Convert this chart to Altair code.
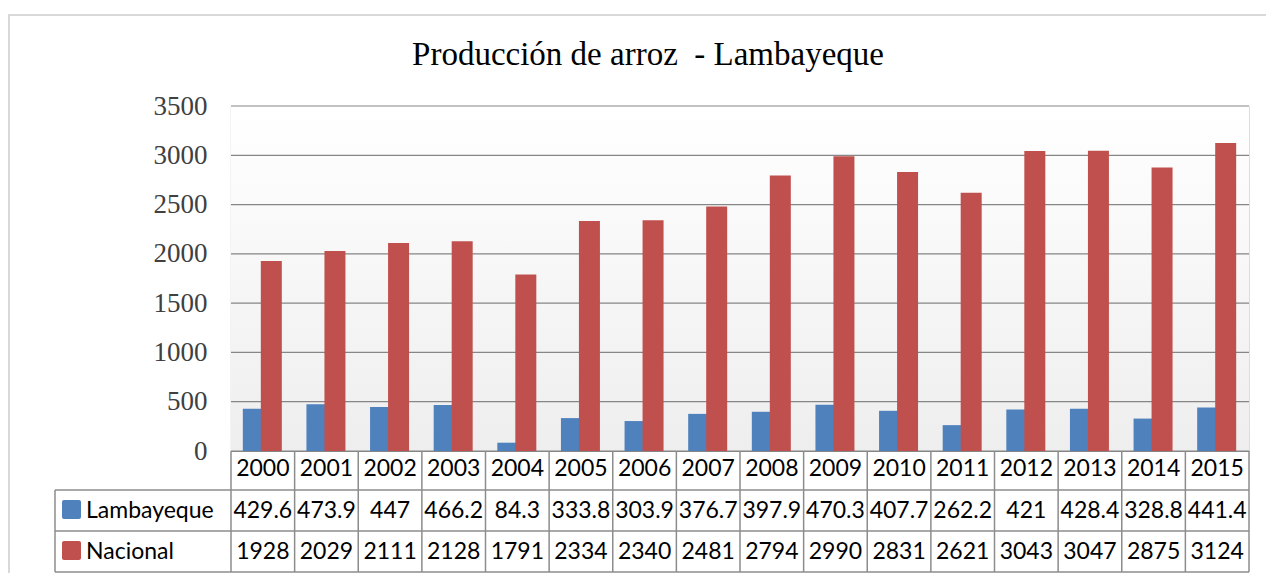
import altair as alt
import pandas as pd

years = [str(y) for y in range(2000, 2016)]
lambayeque = [429.6, 473.9, 447, 466.2, 84.3, 333.8, 303.9, 376.7, 397.9, 470.3, 407.7, 262.2, 421, 428.4, 328.8, 441.4]
nacional = [1928, 2029, 2111, 2128, 1791, 2334, 2340, 2481, 2794, 2990, 2831, 2621, 3043, 3047, 2875, 3124]
series = ["Lambayeque", "Nacional"]
colors = ["#4f81bd", "#c0504d"]
y_ticks = [0, 500, 1000, 1500, 2000, 2500, 3000, 3500]
title_text = "Producción de arroz\u00a0\u00a0- Lambayeque"


def fmt(v):
    return f"{v:g}"


rows = []
for i, y in enumerate(years):
    rows.append({"year": y, "series": series[0], "value": lambayeque[i], "label": fmt(lambayeque[i])})
    rows.append({"year": y, "series": series[1], "value": nacional[i], "label": fmt(nacional[i])})
df = pd.DataFrame(rows)
df_years = pd.DataFrame({"year": years})
df_ticks = pd.DataFrame({"v": y_ticks})
one = pd.DataFrame({"a": [0]})

W, H = 1018, 345
GRID = "#868686"
TABLE = "#8c8c8c"
FONT_T = "Lato"
FS_T = 23

xs = alt.Scale(domain=years, paddingInner=0, paddingOuter=0)
ys = alt.Scale(domain=[0, 3500], nice=False)
cs = alt.Scale(domain=series, range=colors)

# outer border
border = alt.Chart(one).mark_rect(fill=None, stroke="#d9d9d9", strokeWidth=2).encode(
    x=alt.value(-222), x2=alt.value(W + 40), y=alt.value(-91), y2=alt.value(H + 140)
)

title = alt.Chart(one).mark_text(font="Liberation Serif", fontSize=33, color="black",
                                 align="center", baseline="alphabetic", text=title_text).encode(
    x=alt.value(417), y=alt.value(-41))

bg = alt.Chart(one).mark_rect(
    color=alt.LinearGradient(
        gradient="linear",
        stops=[alt.GradientStop(color="#ffffff", offset=0), alt.GradientStop(color="#eeeeee", offset=1)],
        x1=0, x2=0, y1=0, y2=1,
    )
).encode(x=alt.value(0), x2=alt.value(W), y=alt.value(0), y2=alt.value(H))

grid = alt.Chart(df_ticks).mark_rule(color=GRID, strokeWidth=1.2).encode(
    y=alt.Y("v:Q", scale=ys,
            axis=alt.Axis(values=y_ticks, title=None, grid=False, ticks=False, domain=True, format="d",
                          domainColor=GRID, domainWidth=1.2, labelFont="Liberation Serif",
                          labelFontSize=27, labelColor="#404040", labelPadding=24)),
    x=alt.value(0), x2=alt.value(W),
)

blue = alt.Chart(df).transform_filter(alt.datum.series == series[0]).mark_bar(size=20, xOffset=-10).encode(
    x=alt.X("year:O", scale=xs, axis=alt.Axis(title=None, labels=False, ticks=False, domain=True,
                                               domainColor=GRID, domainWidth=1.2)),
    y=alt.Y("value:Q", scale=ys),
    color=alt.Color("series:N", scale=cs, legend=None),
)
red = alt.Chart(df).transform_filter(alt.datum.series == series[1]).mark_bar(size=21, xOffset=8.5).encode(
    x=alt.X("year:O", scale=xs),
    y=alt.Y("value:Q", scale=ys),
    color=alt.Color("series:N", scale=cs, legend=None),
)

# table lines
vlines = alt.Chart(df_years).mark_rule(color=TABLE, strokeWidth=1.5).encode(
    x=alt.X("year:O", scale=xs, bandPosition=0), y=alt.value(H), y2=alt.value(466)
)
vline_end = alt.Chart(one).mark_rule(color=TABLE, strokeWidth=1.5).encode(
    x=alt.value(W), y=alt.value(H), y2=alt.value(466)
)
vline_left = alt.Chart(one).mark_rule(color=TABLE, strokeWidth=1.5).encode(
    x=alt.value(-176), y=alt.value(384), y2=alt.value(466)
)
hl = [alt.Chart(one).mark_rule(color=TABLE, strokeWidth=1.5).encode(
    y=alt.value(yy), x=alt.value(-176), x2=alt.value(W)) for yy in (384, 425, 466)]

header = alt.Chart(df_years).mark_text(font=FONT_T, fontSize=FS_T, color="black", baseline="middle").encode(
    x=alt.X("year:O", scale=xs), y=alt.value(363), text="year:N"
)
row1 = alt.Chart(df).transform_filter(alt.datum.series == series[0]).mark_text(
    font=FONT_T, fontSize=FS_T, color="black", baseline="middle").encode(
    x=alt.X("year:O", scale=xs), y=alt.value(404.5), text="label:N"
)
row2 = alt.Chart(df).transform_filter(alt.datum.series == series[1]).mark_text(
    font=FONT_T, fontSize=FS_T, color="black", baseline="middle").encode(
    x=alt.X("year:O", scale=xs), y=alt.value(445.5), text="label:N"
)

sq1 = alt.Chart(one).mark_rect(color=colors[0], cornerRadius=2).encode(
    x=alt.value(-169), x2=alt.value(-150), y=alt.value(394), y2=alt.value(413))
sq2 = alt.Chart(one).mark_rect(color=colors[1], cornerRadius=2).encode(
    x=alt.value(-169), x2=alt.value(-150), y=alt.value(435), y2=alt.value(454))
lab1 = alt.Chart(one).mark_text(font=FONT_T, fontSize=FS_T, color="black", align="left", baseline="middle",
                                text=series[0]).encode(x=alt.value(-145), y=alt.value(404.5))
lab2 = alt.Chart(one).mark_text(font=FONT_T, fontSize=FS_T, color="black", align="left", baseline="middle",
                                text=series[1]).encode(x=alt.value(-145), y=alt.value(445.5))

chart = alt.layer(
    border, title, bg, grid, blue, red, vlines, vline_end, vline_left, *hl,
    header, row1, row2, sq1, sq2, lab1, lab2
).properties(
    width=W, height=H,
    autosize=alt.AutoSizeParams(type="none"),
    padding={"left": 223, "top": 98, "right": 17, "bottom": 122},
).configure_view(stroke=None).configure(background="white")

chart.save("out.html", embed_options={"renderer": "svg", "actions": False})
